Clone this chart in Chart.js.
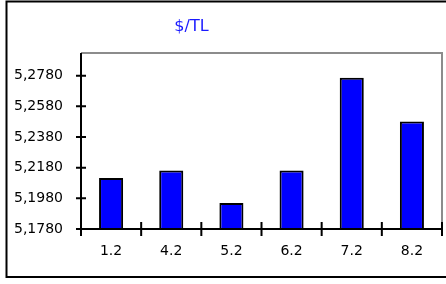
<!DOCTYPE html>
<html>
<head>
<meta charset="utf-8">
<script src="https://cdn.jsdelivr.net/npm/chart.js@4"></script>
<style>
  html, body { margin: 0; padding: 0; background: #fff; overflow: hidden; }
  #wrap { width: 446px; height: 284px; }
</style>
</head>
<body>
<div id="wrap"><canvas id="c" width="446" height="284"></canvas></div>
<script>
// data
const dates = ['1.2', '4.2', '5.2', '6.2', '7.2', '8.2'];
const rates = [5.2113, 5.2162, 5.1950, 5.2162, 5.2767, 5.2482];
const yTicks = [5.178, 5.198, 5.218, 5.238, 5.258, 5.278];
const titleText = '$/TL';

const font = { family: 'DejaVu Sans', size: 14 };

// frame, plot-area border, axes and crossing tick marks (old spreadsheet look)
const framePlugin = {
    id: 'frame',
    afterDraw(chart) {
        const ctx = chart.ctx;
        const a = chart.chartArea;
        const x = chart.scales.x, y = chart.scales.y;
        ctx.save();

        // outer black frame (right side runs off the picture)
        ctx.strokeStyle = '#000';
        ctx.lineWidth = 2;
        ctx.beginPath();
        ctx.moveTo(446, 1.5);
        ctx.lineTo(6.5, 1.5);
        ctx.lineTo(6.5, 277);
        ctx.lineTo(446, 277);
        ctx.stroke();

        // grey top/right plot border
        ctx.strokeStyle = '#8c8c8c';
        ctx.lineWidth = 2;
        ctx.beginPath();
        ctx.moveTo(a.left, a.top);
        ctx.lineTo(a.right, a.top);
        ctx.lineTo(a.right, a.bottom);
        ctx.stroke();

        // axes
        ctx.strokeStyle = '#000';
        ctx.lineWidth = 2;
        ctx.beginPath();
        ctx.moveTo(a.left, a.top);
        ctx.lineTo(a.left, a.bottom);
        ctx.moveTo(a.left - 5, a.bottom);
        ctx.lineTo(a.right + 1, a.bottom);
        ctx.stroke();

        // y ticks crossing the axis
        ctx.beginPath();
        y.ticks.forEach((t, i) => {
            const py = y.getPixelForTick(i);
            ctx.moveTo(a.left - 5, py);
            ctx.lineTo(a.left + 5, py);
        });
        // x ticks at category boundaries
        for (let i = 0; i <= dates.length; i++) {
            const px = x.getPixelForValue(i - 0.5);
            ctx.moveTo(px, a.bottom - 7);
            ctx.lineTo(px, a.bottom + 7);
        }
        ctx.stroke();

        // title
        ctx.fillStyle = '#1a1aff';
        ctx.font = '16px "DejaVu Sans"';
        ctx.textAlign = 'center';
        ctx.textBaseline = 'middle';
        ctx.fillText(titleText, 191.5, 27);
        ctx.restore();
    }
};

new Chart(document.getElementById('c'), {
    type: 'bar',
    data: {
        labels: dates,
        datasets: [{
            data: rates,
            backgroundColor: '#0000ff',
            borderColor: '#000',
            borderWidth: 2,
            barPercentage: 0.4,
            categoryPercentage: 1
        }]
    },
    options: {
        responsive: false,
        animation: false,
        events: [],
        layout: { padding: { left: 0, top: 53, right: 4, bottom: 0 } },
        plugins: {
            legend: { display: false },
            tooltip: { enabled: false },
            title: { display: false }
        },
        scales: {
            x: {
                offset: true,
                grid: { display: false },
                border: { display: false },
                ticks: { color: '#000', font: font, padding: 6, maxRotation: 0 },
                afterFit(s) { s.height = 55; }
            },
            y: {
                min: 5.178,
                max: 5.2928,
                grid: { display: false },
                border: { display: false },
                afterBuildTicks(s) { s.ticks = yTicks.map(v => ({ value: v })); },
                ticks: {
                    color: '#000',
                    font: font,
                    padding: 10,
                    callback: v => v.toFixed(4).replace('.', ',')
                },
                afterFit(s) { s.width = 81; }
            }
        }
    },
    plugins: [framePlugin]
});
</script>
</body>
</html>
